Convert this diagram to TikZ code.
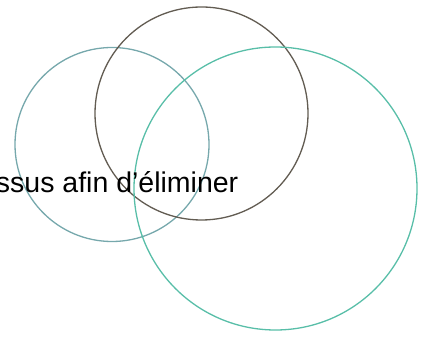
\documentclass[tikz,border=0pt]{standalone}
\usepackage{fontspec}
\setmainfont{Liberation Sans}
\definecolor{greyteal}{RGB}{118,168,172}
\definecolor{taupe}{RGB}{98,92,82}
\definecolor{seagreen}{RGB}{88,190,168}
\tikzset{ring/.style={line width=1.3pt}}
\begin{document}
\begin{tikzpicture}[x=1pt,y=1pt]
\useasboundingbox (0,0) rectangle (425,339);

\draw[ring,greyteal] (112,194.5) circle (97);
\draw[ring,taupe] (201.5,225.5) circle (106.5);
\draw[ring,seagreen] (275.5,150.5) circle (141.5);

\node[anchor=base east,inner sep=0pt,font=\fontsize{28.5}{34}\selectfont] (caption) at (238.5,146) {ssus afin d’éliminer};
\end{tikzpicture}
\end{document}
